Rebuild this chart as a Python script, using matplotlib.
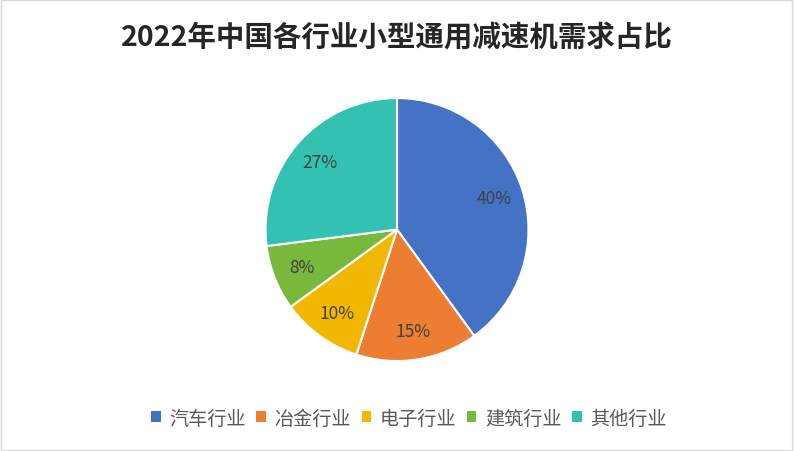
import matplotlib.pyplot as plt
from matplotlib.patches import Rectangle

plt.rcParams['font.family'] = ['Noto Sans CJK SC', 'DejaVu Sans']

industries = ['汽车行业', '冶金行业', '电子行业', '建筑行业', '其他行业']
shares = [40, 15, 10, 8, 27]
colors = ['#4472C4', '#ED7D31', '#F0B800', '#78B83C', '#33C1B2']
title = '2022年中国各行业小型通用减速机需求占比'

fig = plt.figure(figsize=(7.94, 4.52), dpi=100)
fig.patch.set_facecolor('white')
fig.add_artist(Rectangle((0.001, 0.002), 0.997, 0.996, transform=fig.transFigure,
                         fill=False, edgecolor='#d9d9d9', linewidth=1))

# 饼图区域
ax = fig.add_axes([0.3344, 0.199, 0.3312, 0.5819])
wedges, texts, autotexts = ax.pie(
    shares, colors=colors, startangle=90, counterclock=False,
    autopct='%d%%', pctdistance=0.78, radius=1,
    wedgeprops=dict(edgecolor='white', linewidth=1.5),
    textprops=dict(fontsize=12.5, color='#404040'))
ax.set_xlim(-1, 1)
ax.set_ylim(-1, 1)
ax.set_aspect('equal')
ax.axis('off')

fig.text(0.5, 0.918, title, ha='center', va='center', fontsize=20.5,
         fontweight='bold', color='#262626')

leg = fig.legend(wedges, industries, loc='center', bbox_to_anchor=(0.515, 0.073),
                 ncol=5, frameon=False, fontsize=13.8, handlelength=0.5,
                 handleheight=0.5, handletextpad=0.45, columnspacing=0.55)
for t in leg.get_texts():
    t.set_color('#595959')
for h in leg.legend_handles:
    h.set_edgecolor('none')

fig.savefig('out.png', dpi=100)
